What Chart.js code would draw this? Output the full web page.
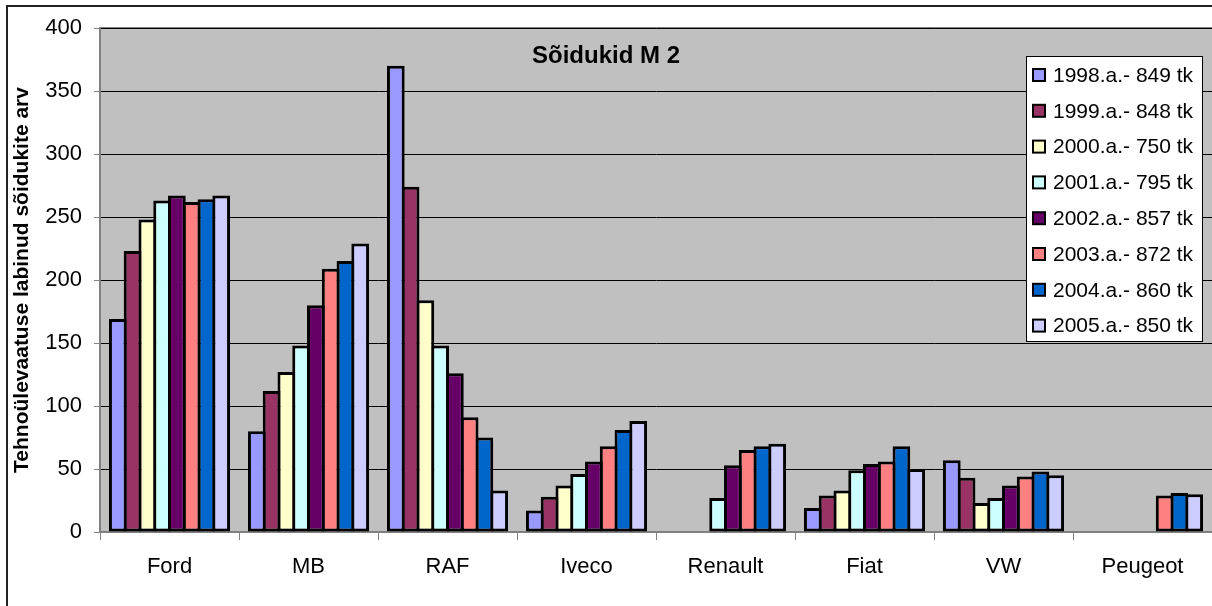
<!DOCTYPE html>
<html>
<head>
<meta charset="utf-8">
<script src="https://cdn.jsdelivr.net/npm/chart.js@4.4.0/dist/chart.umd.min.js"></script>
<style>
    body { margin: 0; background: #fff; }
    canvas { display: block; }
</style>
</head>
<body>
<canvas id="chart" width="1212" height="606"></canvas>
<script>
// ===============================
// DATA
// ===============================

const categories = ['Ford', 'MB', 'RAF', 'Iveco', 'Renault', 'Fiat', 'VW', 'Peugeot'];

const seriesLabels = [
    '1998.a.- 849 tk', '1999.a.- 848 tk', '2000.a.- 750 tk', '2001.a.- 795 tk',
    '2002.a.- 857 tk', '2003.a.- 872 tk', '2004.a.- 860 tk', '2005.a.- 850 tk'
];

const y1998 = [169, 80, 370, 17, null, 19, 57, null];
const y1999 = [223, 112, 274, 28, null, 29, 43, null];
const y2000 = [248, 127, 184, 37, null, 33, 23, null];
const y2001 = [263, 148, 148, 46, 27, 49, 27, null];
const y2002 = [267, 180, 126, 56, 53, 54, 37, null];
const y2003 = [262, 209, 91, 68, 65, 56, 44, 29];
const y2004 = [264, 215, 75, 81, 68, 68, 48, 31];
const y2005 = [267, 229, 33, 88, 70, 50, 45, 30];

const yTicks = [0, 50, 100, 150, 200, 250, 300, 350, 400];

const chartTitle = 'Sõidukid M 2';
const yTitle = 'Tehnoülevaatuse labinud sõidukite arv';


// ===============================
// STYLE
// ===============================

const colors = ['#9999FF', '#993366', '#FFFFCC', '#CCFFFF', '#660066', '#FF8080', '#0066CC', '#CCCCFF'];
const FONT = '"Liberation Sans", Arial, sans-serif';

const allSeries = [y1998, y1999, y2000, y2001, y2002, y2003, y2004, y2005];


// ===============================
// PLUGIN: background, title, legend, frame
// ===============================

const decorPlugin = {
    id: 'decor',

    beforeDraw(chart) {
        const ctx = chart.ctx;
        const a = chart.chartArea;

        ctx.save();
        ctx.fillStyle = '#C0C0C0';
        ctx.fillRect(a.left, a.top, a.right - a.left, a.bottom - a.top);

        // outer frame
        ctx.strokeStyle = '#222';
        ctx.lineWidth = 2;
        ctx.strokeRect(7, 6, 1400, 800);

        // plot top border
        ctx.strokeStyle = '#808080';
        ctx.lineWidth = 2;
        ctx.beginPath();
        ctx.moveTo(a.left, a.top);
        ctx.lineTo(a.right, a.top);
        ctx.stroke();
        ctx.restore();
    },

    afterDraw(chart) {
        const ctx = chart.ctx;
        ctx.save();

        // title
        ctx.fillStyle = '#000';
        ctx.font = 'bold 24px ' + FONT;
        ctx.textAlign = 'center';
        ctx.textBaseline = 'middle';
        ctx.fillText(chartTitle, 606, 56);

        // legend box
        ctx.fillStyle = '#fff';
        ctx.fillRect(1026, 56, 177, 286);
        ctx.strokeStyle = '#000';
        ctx.lineWidth = 1;
        ctx.strokeRect(1026.5, 56.5, 176, 285);

        ctx.font = '21px ' + FONT;
        ctx.textAlign = 'left';
        chart.data.datasets.forEach((ds, i) => {
            let cy = 75 + i * 35.8;
            ctx.fillStyle = ds.backgroundColor;
            ctx.fillRect(1033, cy - 6, 12, 12);
            ctx.strokeStyle = '#000';
            ctx.lineWidth = 2;
            ctx.strokeRect(1033, cy - 6, 12, 12);
            ctx.fillStyle = '#000';
            ctx.fillText(ds.label, 1053, cy + 1);
        });

        ctx.restore();
    }
};


// ===============================
// CHART SETUP
// ===============================

const ctx = document.getElementById('chart').getContext('2d');

let chart = new Chart(ctx, {

    type: 'bar',

    data: {
        labels: categories,

        datasets: allSeries.map((values, i) => ({
            label: seriesLabels[i],
            data: values,
            backgroundColor: colors[i],
            borderColor: '#000',
            borderWidth: 3,
            borderSkipped: false,
            categoryPercentage: 0.85,
            barPercentage: 1.2
        }))
    },

    options: {
        responsive: false,
        animation: false,
        layout: {
            padding: { top: 28, right: 0, bottom: 0, left: 0 }
        },
        plugins: {
            legend: { display: false },
            title: { display: false },
            tooltip: { enabled: false }
        },
        scales: {
            x: {
                offset: true,
                afterFit: s => { s.height = 74; },
                grid: {
                    offset: true,
                    drawOnChartArea: false,
                    tickLength: 8,
                    tickColor: '#808080'
                },
                border: { color: '#808080', width: 2 },
                ticks: {
                    color: '#000',
                    padding: 14,
                    font: { family: FONT, size: 22 }
                }
            },
            y: {
                min: 0,
                max: 400,
                afterFit: s => { s.width = 100; },
                afterBuildTicks: s => { s.ticks = yTicks.map(v => ({ value: v })); },
                grid: {
                    color: '#000',
                    lineWidth: 1,
                    tickLength: 6,
                    tickColor: '#808080'
                },
                border: { color: '#808080', width: 2 },
                ticks: {
                    color: '#000',
                    padding: 12,
                    font: { family: FONT, size: 22 }
                },
                title: {
                    display: true,
                    text: yTitle,
                    color: '#000',
                    padding: { top: 10, bottom: 0 },
                    font: { family: FONT, size: 21, weight: 'bold' }
                }
            }
        }
    },

    plugins: [decorPlugin]
});
</script>
</body>
</html>
